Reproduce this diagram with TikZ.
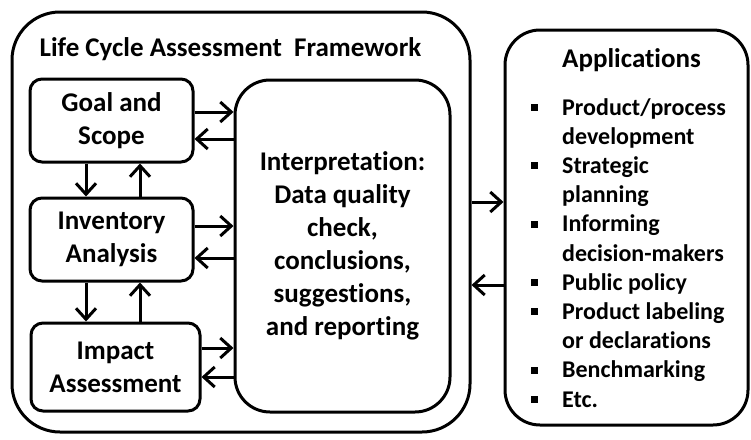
\documentclass[tikz,border=0pt]{standalone}
\usepackage{fontspec}
\setmainfont{Carlito}[Ligatures=NoCommon]
\usetikzlibrary{arrows.meta}

\newcommand{\bul}{\makebox[0pt][r]{\raisebox{4pt}{\rule{7pt}{7pt}}\hspace{24.5pt}}}

\begin{document}
\begin{tikzpicture}[x=1pt, y=-1pt,
	box/.style={draw, line width=3pt, rounded corners=12pt, align=center, inner sep=0pt,
		font=\fontsize{27}{33}\selectfont\bfseries},
	arr/.style={line width=3pt, -{Straight Barb[length=11pt,width=20pt]}},
	txt/.style={anchor=base west, inner sep=0pt, font=\fontsize{24}{29}\selectfont\bfseries}]
			\useasboundingbox (0,0) rectangle (751,439);

			\node[box, rounded corners=48pt, minimum width=458pt, minimum height=420pt] (frame) at (241, 222) {};
			\node[anchor=base, inner sep=0pt, font=\fontsize{27}{29}\selectfont\bfseries] (title) at (230.5, 56) {Life Cycle Assessment~~Framework};
			\node[box, minimum width=163pt, minimum height=83pt] (goal) at (111.5, 120.5) {Goal and\\Scope};
			\node[box, minimum width=163pt, minimum height=83pt] (inventory) at (111.5, 239.5) {Inventory\\Analysis};
			\node[box, minimum width=169pt, minimum height=88pt] (impact) at (115.5, 367) {Impact\\Assessment};
			\node[box, rounded corners=35pt, minimum width=215pt, minimum height=332pt] (interp) at (342.5, 246) {Interpretation:\\Data quality\\check,\\conclusions,\\suggestions,\\and reporting};
			\node[box, rounded corners=35pt, minimum width=243pt, minimum height=395pt] (apps) at (626.5, 227.5) {};
			\node[txt, font=\fontsize{27}{29}\selectfont\bfseries] (apphead) at (562, 67) {Applications};
			\foreach \line [count=\i] in {\bul Product/process, development, \bul Strategic, planning,
				\bul Informing, decision-makers, \bul Public policy, \bul Product labeling,
				or declarations, \bul Benchmarking, \bul Etc.}
				\node[txt] (app\i) at (562, 115 + 29.2*\i - 29.2) {\line};

			\coordinate (g1) at ([yshift=8.5pt]goal.east);
			\coordinate (g2) at ([yshift=-18.5pt]goal.east);
			\coordinate (i1) at ([yshift=13.5pt]inventory.east);
			\coordinate (i2) at ([yshift=-18.5pt]inventory.east);
			\coordinate (m1) at ([yshift=19pt]impact.east);
			\coordinate (m2) at ([yshift=-10pt]impact.east);
			\coordinate (f1) at ([yshift=20pt]frame.east);
			\coordinate (f2) at ([yshift=-63pt]frame.east);
			\coordinate (v1) at ([xshift=-25.5pt]goal.south);
			\coordinate (v2) at ([xshift=28.5pt]goal.south);
			\coordinate (v3) at ([xshift=-25.5pt]inventory.south);
			\coordinate (v4) at ([xshift=28.5pt]inventory.south);

			\draw[arr] (g1) to (g1 -| interp.west);
			\draw[arr] (g2 -| interp.west) to (g2);
			\draw[arr] (i1) to (i1 -| interp.west);
			\draw[arr] (i2 -| interp.west) to (i2);
			\draw[arr] (m1) to (m1 -| interp.west);
			\draw[arr] (m2 -| interp.west) to (m2);
			\draw[arr] (f1) to (f1 -| apps.west);
			\draw[arr] (f2 -| apps.west) to (f2);
			\draw[arr] (v1) to (v1 |- inventory.north);
			\draw[arr] (v2 |- inventory.north) to (v2);
			\draw[arr] (v3) to (v3 |- impact.north);
			\draw[arr] (v4 |- impact.north) to (v4);
		\end{tikzpicture}
\end{document}
